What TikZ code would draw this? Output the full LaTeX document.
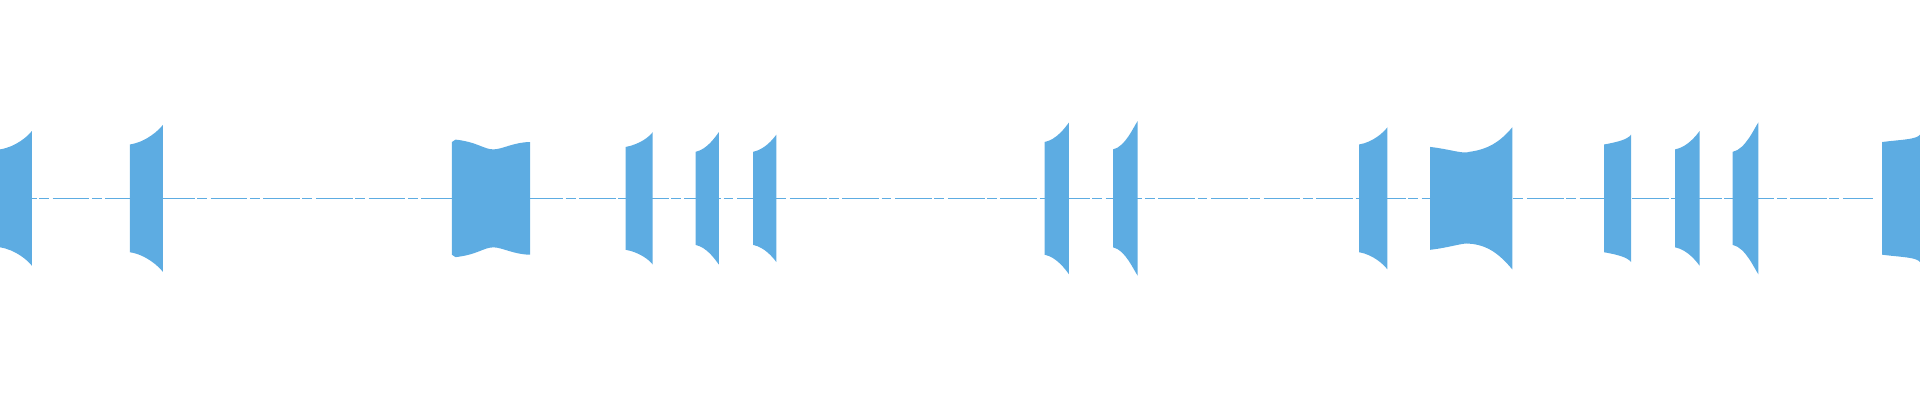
\documentclass[tikz,border=0pt]{standalone}
\definecolor{wave}{HTML}{5DACE2}
\begin{document}
\begin{tikzpicture}[x=1pt,y=1pt,wv/.style={fill=wave,draw=none}]
\useasboundingbox (0,0) rectangle (1568,327);
\def\m{165}
% mid line
\draw[wave,line width=0.8pt,dash pattern=on 30pt off 2pt on 8pt off 3pt] (0,\m) -- (1530,\m);
% simple blocks: x1/x2/a1/a2
\foreach \a/\b/\p/\q in {0/26/40/55, 106/133/44/60, 511/533/42/54, 568/587/38/54, 615/634/38/52, 853/873/46/62, 909/929/40/63, 1110/1133/44/58, 1310/1332/44/52, 1368/1388/40/55, 1415/1436/38/62, 1537/1568/46/52}{
  \fill[wv] (\a,\m-\p) .. controls (\a+0.5*\b-0.5*\a,\m-\p-2) and (\b-3,\m-\q+4) .. (\b,\m-\q)
    -- (\b,\m+\q) .. controls (\b-3,\m+\q-4) and (\a+0.5*\b-0.5*\a,\m+\p+2) .. (\a,\m+\p) -- cycle;
}
% blocks with dip
\fill[wv] (369,\m-46) -- (372,\m-48) .. controls (390,\m-46) and (395,\m-40) .. (403,\m-40)
  .. controls (410,\m-40) and (420,\m-46) .. (433,\m-46) -- (433,\m+46)
  .. controls (420,\m+46) and (410,\m+40) .. (403,\m+40)
  .. controls (395,\m+40) and (390,\m+46) .. (372,\m+48) -- (369,\m+46) -- cycle;
\fill[wv] (1168,\m-42) .. controls (1185,\m-40) and (1195,\m-36) .. (1200,\m-37)
  .. controls (1215,\m-38) and (1225,\m-46) .. (1235,\m-58) -- (1235,\m+58)
  .. controls (1225,\m+46) and (1215,\m+40) .. (1200,\m+38)
  .. controls (1195,\m+36) and (1185,\m+40) .. (1168,\m+42) -- cycle;
\end{tikzpicture}
\end{document}
